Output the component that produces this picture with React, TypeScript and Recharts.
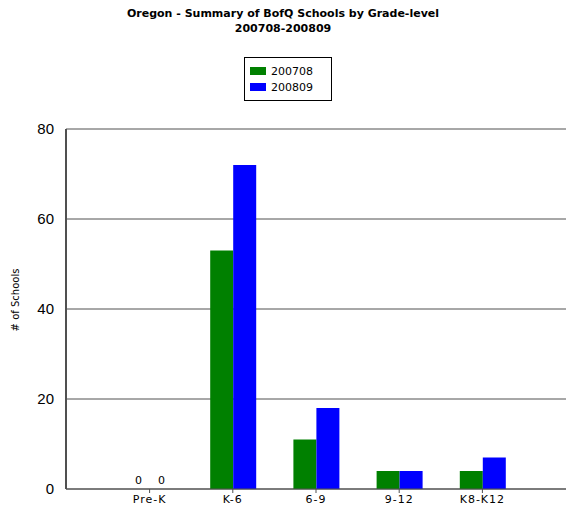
import React from "react";
import { BarChart, Bar, XAxis, YAxis, CartesianGrid, Rectangle } from "recharts";

const grades = ["Pre-K", "K-6", "6-9", "9-12", "K8-K12"];
const year0708 = [0, 53, 11, 4, 4];
const year0809 = [0, 72, 18, 4, 7];
const yTicks = [0, 20, 40, 60, 80];

const data = grades.map((g, i) => ({ grade: g, "200708": year0708[i], "200809": year0809[i] }));

const font = "'DejaVu Sans', Verdana, sans-serif";

function BarWithZero(props: any) {
  const { x, y, width, height, fill, value } = props;
  const v = Array.isArray(value) ? value[1] - value[0] : value;
  return (
    <g>
      {height > 0 && <Rectangle x={x} y={y} width={width} height={height} fill={fill} />}
      {v === 0 && (
        <text x={x + width / 2} y={y - 5} textAnchor="middle" fontSize={11} fontFamily={font} fill="#000">
          0
        </text>
      )}
    </g>
  );
}

function LegendBox() {
  const items = [
    { name: "200708", color: "#008000" },
    { name: "200809", color: "#0000ff" },
  ];
  return (
    <div style={{ position: "absolute", left: 244, top: 57, border: "1px solid #000", width: 88, padding: "5px 0 5px 5px", boxSizing: "border-box", background: "#fff" }}>
      {items.map((it) => (
        <div key={it.name} style={{ display: "flex", alignItems: "center", height: 16, fontFamily: font, fontSize: 11 }}>
          <span style={{ display: "inline-block", width: 16, height: 8, background: it.color, marginRight: 5 }} />
          {it.name}
        </div>
      ))}
    </div>
  );
}

export default function App() {
  return (
    <div style={{ position: "absolute", left: 0, top: 0, width: 566, height: 512, background: "#fff" }}>
      <div style={{ position: "absolute", left: 0, top: 6, width: 566, textAlign: "center", fontFamily: font, fontWeight: "bold", fontSize: 11, lineHeight: "15px" }}>
        Oregon - Summary of BofQ Schools by Grade-level
        <br />
        200708-200809
      </div>
      <LegendBox />
      <div style={{ position: "absolute", left: 15, top: 300, transform: "translate(-50%,-50%) rotate(-90deg)", fontFamily: font, fontSize: 10, whiteSpace: "nowrap" }}>
        # of Schools
      </div>
      <BarChart
        width={566}
        height={512}
        data={data}
        margin={{ top: 129, right: 0, left: 0, bottom: 0 }}
        barGap={0}
        barSize={23}
      >
        <CartesianGrid vertical={false} stroke="#505050" strokeWidth={1} />
        <XAxis
          dataKey="grade"
          padding={{ left: 42, right: 42 }}
          stroke="#505050"
          tickSize={4}
          height={23}
          tick={{ fontSize: 11, fontFamily: font, fill: "#000", letterSpacing: 1 }}
          interval={0}
        />
        <YAxis
          domain={[0, 80]}
          ticks={yTicks}
          width={66}
          stroke="#505050"
          strokeWidth={2}
          tickLine={false}
          tickMargin={6}
          tick={{ fontSize: 15, fontFamily: "'Liberation Sans Narrow', 'Arial Narrow', sans-serif", fill: "#000" }}
        />
        <Bar dataKey="200708" fill="#008000" isAnimationActive={false} shape={<BarWithZero />} />
        <Bar dataKey="200809" fill="#0000ff" isAnimationActive={false} shape={<BarWithZero />} />
      </BarChart>
    </div>
  );
}
